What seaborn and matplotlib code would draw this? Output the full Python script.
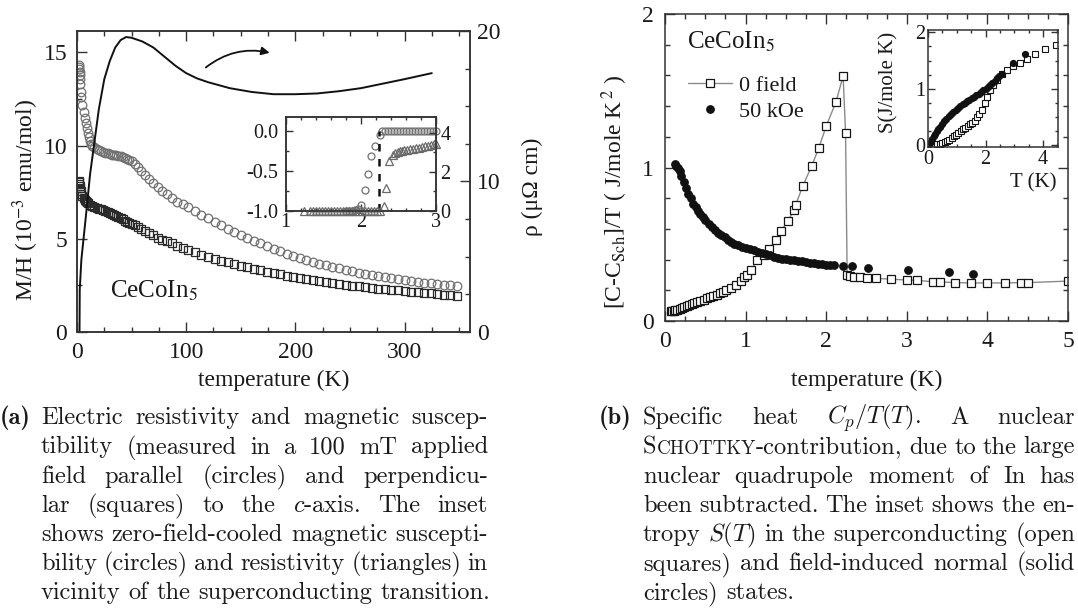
import matplotlib
matplotlib.use("Agg")
import matplotlib.pyplot as plt
import seaborn as sns
from matplotlib.ticker import MultipleLocator, FormatStrFormatter

# ---------------- (a) main panel ----------------
# resistivity (right axis, micro-ohm cm)
rho_T = [2.0, 2.3, 2.5, 4, 6, 9, 12, 15, 20, 25, 30, 35, 40, 45, 50, 60, 70, 80, 90,
         100, 110, 120, 140, 160, 180, 200, 220, 240, 260, 280, 300, 325]
rho = [0.0, 0.0, 2.8, 4.8, 6.2, 8.3, 10.5, 12.1, 14.8, 16.8, 18.0, 18.9, 19.4, 19.6, 19.55,
       19.3, 18.9, 18.3, 17.7, 17.2, 16.85, 16.6, 16.2, 15.95, 15.8, 15.8, 15.85, 16.0,
       16.2, 16.5, 16.8, 17.2]

# susceptibility (left axis, 1e-3 emu/mol)
T_hi = [108, 114, 120, 126, 132, 138, 144, 150, 156, 162, 168, 174, 180, 186, 192, 198,
        204, 210, 216, 222, 228, 234, 240, 246, 252, 258, 264, 270, 276, 282, 288, 294,
        300, 306, 312, 318, 324, 330, 336, 342, 348]

chi_par_T = [1.8, 2.0, 2.2, 2.4, 2.6, 2.8, 3.0, 3.5, 4, 5, 6, 7, 8, 9, 10, 11, 12, 13, 14,
             16, 18, 20, 22, 24, 26, 28, 30, 32, 34, 36, 38, 40, 42, 44, 46, 48, 50,
             53, 56, 59, 62, 66, 70, 74, 78, 82, 87, 92, 97, 102] + T_hi
chi_par = [14.3, 14.2, 14.1, 13.95, 13.8, 13.6, 13.3, 12.9, 12.6, 12.2, 11.8, 11.5, 11.2,
           10.95, 10.7, 10.45, 10.25, 10.1, 10.0,
           9.9, 9.8, 9.75, 9.7, 9.65, 9.6, 9.58, 9.55, 9.52, 9.5, 9.48, 9.45, 9.42, 9.38,
           9.33, 9.28, 9.22, 9.15,
           9.0, 8.85, 8.65, 8.45, 8.2, 7.98, 7.78, 7.58, 7.4, 7.2, 7.0, 6.85, 6.7,
           6.5, 6.3, 6.1, 5.9, 5.72, 5.55, 5.38, 5.22, 5.06, 4.9, 4.75, 4.6, 4.47, 4.34,
           4.2, 4.08, 3.97, 3.86, 3.76, 3.66, 3.57, 3.49, 3.41, 3.33, 3.26, 3.19, 3.12,
           3.06, 3.0, 2.94, 2.89, 2.84, 2.79, 2.74, 2.7, 2.65, 2.61, 2.57, 2.53, 2.5, 2.47]

chi_perp_T = [1.8, 2.0, 2.2, 2.5, 3.0, 3.5, 4, 5, 6, 7, 8, 9, 10,
              12, 14, 16, 18, 20, 22, 24, 26, 28, 30, 32, 34, 36, 38, 40, 42, 44, 46, 48, 50,
              53, 56, 59, 62, 66, 70, 74, 78, 82, 87, 92, 97, 102] + T_hi
chi_perp = [8.1, 8.05, 7.95, 7.85, 7.7, 7.55, 7.42, 7.3, 7.2, 7.1, 7.02, 6.95, 6.9,
            6.83, 6.77, 6.72, 6.67, 6.62, 6.58, 6.53, 6.49, 6.44, 6.4, 6.35, 6.3, 6.24,
            6.18, 6.12, 6.05, 5.98, 5.92, 5.86, 5.8,
            5.72, 5.63, 5.53, 5.43, 5.3, 5.18, 5.07, 4.96, 4.86, 4.75, 4.63, 4.52, 4.4,
            4.27, 4.15, 4.04, 3.93, 3.83, 3.73, 3.64, 3.56, 3.47, 3.39, 3.31, 3.23, 3.16,
            3.09, 3.02, 2.96, 2.9, 2.84, 2.78, 2.73, 2.68, 2.63, 2.58, 2.53, 2.49, 2.45,
            2.41, 2.37, 2.33, 2.3, 2.26, 2.23, 2.2, 2.17, 2.14, 2.11, 2.07, 2.04, 2.01,
            1.98, 1.95]

# ---------------- (a) inset ----------------
ins_chi_T = [1.80, 1.84, 1.88, 1.92, 1.96, 2.00, 2.05, 2.10, 2.14, 2.19, 2.25,
             2.28, 2.32, 2.36, 2.40, 2.44, 2.48, 2.52, 2.56, 2.60, 2.64, 2.68, 2.72,
             2.76, 2.80, 2.84, 2.88, 2.92, 2.96, 3.00]
ins_chi = [-1.0, -1.0, -1.0, -0.99, -0.97, -0.92, -0.74, -0.535, -0.31, -0.185, -0.05,
           0.0, 0.0, 0.0, 0.0, 0.0, 0.0, 0.0, 0.0, 0.0, 0.0, 0.0, 0.0, 0.0, 0.0, 0.0,
           0.0, 0.0, 0.0, 0.0]
ins_rho_T = [1.24, 1.33, 1.37, 1.41, 1.45, 1.49, 1.53, 1.57, 1.61, 1.65, 1.69, 1.73, 1.77,
             1.81, 1.85, 1.89, 1.93, 1.97, 2.01, 2.05, 2.09, 2.13, 2.17, 2.21, 2.25,
             2.31, 2.34, 2.38, 2.43, 2.46, 2.49, 2.52, 2.55, 2.58, 2.61, 2.65, 2.69, 2.73,
             2.77, 2.81, 2.85, 2.89, 2.93, 2.97, 3.0]
ins_rho = [0.0, 0.0, 0.0, 0.0, 0.0, 0.0, 0.0, 0.0, 0.0, 0.0, 0.0, 0.0, 0.0, 0.0, 0.0, 0.0,
           0.0, 0.0, 0.0, 0.0, 0.0, 0.0, 0.0, 0.0, 0.0,
           0.26, 1.16, 2.53, 2.87, 2.95, 3.0, 3.04, 3.07, 3.1, 3.12, 3.15, 3.18, 3.21,
           3.24, 3.27, 3.3, 3.33, 3.37, 3.4, 3.43]
tc_T = [2.24, 2.24]
tc_chi = [-1.0, 0.0]

# ---------------- (b) main panel ----------------
cp0_T = [0.07, 0.09, 0.11, 0.13, 0.15, 0.18, 0.21, 0.24, 0.27, 0.30, 0.33, 0.36, 0.40,
         0.44, 0.48, 0.52, 0.56, 0.60, 0.64, 0.68, 0.72, 0.76, 0.82, 0.88, 0.94, 0.98,
         1.02, 1.07, 1.14, 1.23, 1.29, 1.38, 1.44, 1.52, 1.60, 1.62, 1.71, 1.82, 1.91,
         2.00, 2.12, 2.21, 2.24, 2.26, 2.29, 2.35, 2.42, 2.51, 2.62, 2.81, 3.00, 3.13,
         3.33, 3.41, 3.60, 3.80, 4.00, 4.22, 4.42, 4.50, 5.00]
cp0 = [0.065, 0.066, 0.068, 0.07, 0.073, 0.077, 0.082, 0.088, 0.095, 0.103, 0.11, 0.117,
       0.124, 0.132, 0.14, 0.148, 0.155, 0.163, 0.172, 0.182, 0.192, 0.2, 0.213, 0.235,
       0.26, 0.285, 0.30, 0.33, 0.397, 0.43, 0.47, 0.53, 0.585, 0.65, 0.72, 0.755, 0.88,
       1.01, 1.13, 1.27, 1.425, 1.596, 1.227, 0.30, 0.29, 0.287, 0.285, 0.28, 0.278,
       0.272, 0.267, 0.265, 0.255, 0.255, 0.25, 0.248, 0.248, 0.248, 0.25, 0.25, 0.26]
cp50_T = [0.12, 0.14, 0.16, 0.18, 0.20, 0.23, 0.26, 0.29, 0.32, 0.35, 0.38, 0.41, 0.44,
          0.47, 0.50, 0.54, 0.58, 0.62, 0.66, 0.70, 0.74, 0.78, 0.82, 0.86, 0.90, 0.95,
          1.00, 1.05, 1.10, 1.15, 1.20, 1.25, 1.30, 1.35, 1.40, 1.45, 1.50, 1.55, 1.60,
          1.65, 1.70, 1.75, 1.80, 1.85, 1.90, 1.95, 2.00, 2.05, 2.10, 2.21, 2.32, 2.52,
          3.02, 3.52, 3.82]
cp50 = [1.02, 1.01, 1.0, 0.975, 0.945, 0.905, 0.865, 0.83, 0.8, 0.765, 0.74, 0.715, 0.695,
        0.675, 0.66, 0.635, 0.615, 0.595, 0.575, 0.56, 0.545, 0.53, 0.515, 0.503, 0.495,
        0.485, 0.476, 0.468, 0.46, 0.452, 0.443, 0.435, 0.428, 0.42, 0.413, 0.407, 0.402,
        0.398, 0.395, 0.392, 0.389, 0.385, 0.381, 0.377, 0.373, 0.37, 0.367, 0.365,
        0.362, 0.358, 0.358, 0.347, 0.332, 0.316, 0.306]

# ---------------- (b) inset: entropy ----------------
s0_T = [0.10, 0.20, 0.30, 0.40, 0.50, 0.58, 0.66, 0.74, 0.82, 0.90, 0.98, 1.06, 1.14,
        1.22, 1.30, 1.38, 1.46, 1.54, 1.62, 1.70, 1.78, 1.87, 1.98, 2.06, 2.16, 2.27,
        2.39, 2.56, 2.74, 2.96, 3.20, 3.43, 3.72, 4.07, 4.44]
s0 = [0.0, 0.01, 0.015, 0.025, 0.04, 0.055, 0.07, 0.095, 0.125, 0.16, 0.19, 0.22, 0.25,
      0.28, 0.31, 0.34, 0.37, 0.4, 0.43, 0.5, 0.56, 0.62, 0.74, 0.855, 0.97, 1.06, 1.16,
      1.26, 1.33, 1.4, 1.46, 1.53, 1.61, 1.70, 1.78]
s50_T = [0.05, 0.10, 0.15, 0.20, 0.25, 0.30, 0.35, 0.40, 0.48, 0.56, 0.64, 0.72, 0.80,
         0.88, 0.96, 1.04, 1.12, 1.20, 1.28, 1.36, 1.44, 1.52, 1.60, 1.68, 1.76, 1.84,
         1.92, 2.00, 2.08, 2.16, 2.24, 2.32, 2.40, 2.48, 2.56, 2.94, 3.37]
s50 = [0.01, 0.06, 0.11, 0.16, 0.205, 0.25, 0.29, 0.325, 0.375, 0.425, 0.47, 0.51, 0.55,
       0.59, 0.625, 0.66, 0.695, 0.73, 0.755, 0.785, 0.81, 0.835, 0.86, 0.885, 0.915,
       0.945, 0.97, 1.0, 1.035, 1.07, 1.1, 1.145, 1.185, 1.225, 1.26, 1.45, 1.61]

# ---------------- captions ----------------
cap_a = ["Electric resistivity and magnetic suscep-",
         "tibility (measured in a 100 mT applied",
         "field parallel (circles) and perpendicu-",
         "lar (squares) to the $c$-axis. The inset",
         "shows zero-field-cooled magnetic suscepti-",
         "bility (circles) and resistivity (triangles) in",
         "vicinity of the superconducting transition."]
cap_b = ["Specific heat $C_p/T(T)$. A nuclear",
         "SCHOTTKY-contribution, due to the large",
         "nuclear quadrupole moment of In has",
         "been subtracted. The inset shows the en-",
         "tropy $S(T)$ in the superconducting (open",
         "squares) and field-induced normal (solid",
         "circles) states."]

sns.set_style("ticks")
plt.rcParams["font.family"] = ["Liberation Serif", "DejaVu Serif"]
plt.rcParams["mathtext.fontset"] = "stix"
plt.rcParams["axes.unicode_minus"] = False
INK = "#1a1a1a"
EDGE = "#333333"

W, H = 1078, 608
fig = plt.figure(figsize=(W / 100, H / 100), dpi=100)


def px_axes(left, top, right, bottom):
    return fig.add_axes([left / W, 1 - bottom / H, (right - left) / W, (bottom - top) / H])


def frame(ax, size, xpad, ypad, major=7, minor=3.5):
    ax.tick_params(which="both", direction="in", labelsize=size, width=1.0,
                   color=EDGE, labelcolor=INK)
    ax.tick_params(axis="x", pad=xpad)
    ax.tick_params(axis="y", pad=ypad)
    ax.tick_params(which="major", length=major)
    ax.tick_params(which="minor", length=minor)
    for sp in ax.spines.values():
        sp.set_color(EDGE)
        sp.set_linewidth(1.1)


def pts(ax, x, y, marker, ms, mfc, mec, mew=0.9, **kw):
    sns.lineplot(x=x, y=y, ax=ax, estimator=None, sort=False, marker=marker,
                 linestyle="none", ms=ms, mfc=mfc, mec=mec, mew=mew, **kw)


# ===== panel (a) =====
ax1 = px_axes(77, 31, 470, 332)
ax1r = ax1.twinx()
pts(ax1, chi_par_T, chi_par, "o", 6.2, "none", "#707070")
pts(ax1, chi_perp_T, chi_perp, "s", 5.6, "none", "#2a2a2a")
sns.lineplot(x=rho_T, y=rho, ax=ax1r, estimator=None, sort=False, color="#111111", lw=1.4)
ax1.set_xlim(0, 360)
ax1.set_ylim(0, 16.15)
ax1r.set_ylim(0, 20)
ax1.xaxis.set_major_locator(MultipleLocator(100))
ax1.xaxis.set_minor_locator(MultipleLocator(25))
ax1.yaxis.set_major_locator(MultipleLocator(5))
ax1.yaxis.set_minor_locator(MultipleLocator(2.5))
ax1r.yaxis.set_major_locator(MultipleLocator(10))
ax1r.yaxis.set_minor_locator(MultipleLocator(2.5))
frame(ax1, 17, 7, 7)
frame(ax1r, 17, 7, 5)
ax1.tick_params(which="both", top=True, right=False)
ax1r.tick_params(which="both", right=True, left=False)
ax1.set_xlabel("temperature (K)", fontsize=17, color=INK, va="center")
ax1.xaxis.set_label_coords(0.5, -0.16)
ax1.set_ylabel(r"M/H (10$^{-3}$ emu/mol)", fontsize=17, color=INK, va="center")
ax1.yaxis.set_label_coords(-0.13, 0.44)
ax1r.set_ylabel("ρ (μΩ cm)", fontsize=17, color=INK, va="center")
ax1r.yaxis.set_label_coords(1.158, 0.482)
ax1.text(30, 2.2, r"CeCoIn$_5$", fontsize=18, color=INK, va="center")
ax1.annotate("", xy=(179, 14.95), xytext=(116, 14.1),
             arrowprops=dict(arrowstyle="-|>", color="#111111", lw=1.3,
                             mutation_scale=12, connectionstyle="arc3,rad=-0.25"))

# inset (a)
ins1 = px_axes(285.5, 117, 436, 211)
ins1r = ins1.twinx()
pts(ins1, ins_chi_T, ins_chi, "o", 5.0, "none", "#707070", clip_on=False)
pts(ins1r, ins_rho_T, ins_rho, "^", 5.6, "none", "#6a6a6a", clip_on=False)
sns.lineplot(x=tc_T, y=tc_chi, ax=ins1, estimator=None, sort=False, color="#111111",
             lw=1.8, dashes=False, linestyle=(0, (3, 3)))
ins1.set_xlim(1, 3)
ins1.set_ylim(-1.0, 0.175)
ins1r.set_ylim(0, 4.8)
ins1.xaxis.set_major_locator(MultipleLocator(1))
ins1.xaxis.set_minor_locator(MultipleLocator(0.2))
ins1.yaxis.set_major_locator(MultipleLocator(0.5))
ins1.yaxis.set_minor_locator(MultipleLocator(0.25))
ins1.yaxis.set_major_formatter(FormatStrFormatter("%.1f"))
ins1r.yaxis.set_major_locator(MultipleLocator(2))
ins1r.yaxis.set_minor_locator(MultipleLocator(1))
frame(ins1, 14.5, 1.5, 5, major=5, minor=2.5)
frame(ins1r, 14.5, 1.5, 3, major=5, minor=2.5)
ins1.tick_params(which="both", top=True, right=False)
ins1r.tick_params(which="both", right=True, left=False)
ins1.set_facecolor("white")

# ===== panel (b) =====
ax2 = px_axes(665, 14, 1068, 321)
sns.lineplot(x=cp0_T, y=cp0, ax=ax2, estimator=None, sort=False, color="#8a8a8a", lw=1.0,
             marker="s", ms=5.6, mfc="white", mec="#151515", mew=0.9, label="0 field")
pts(ax2, cp50_T, cp50, "o", 5.4, "#111111", "#111111", label="50 kOe")
ax2.set_xlim(0, 5)
ax2.set_ylim(0, 2)
ax2.xaxis.set_major_locator(MultipleLocator(1))
ax2.xaxis.set_minor_locator(MultipleLocator(0.25))
ax2.yaxis.set_major_locator(MultipleLocator(1))
ax2.yaxis.set_minor_locator(MultipleLocator(0.2))
frame(ax2, 17, 7, 8)
ax2.tick_params(which="both", top=True, right=True)
ax2.set_xlabel("temperature (K)", fontsize=17, color=INK, va="center")
ax2.xaxis.set_label_coords(0.5, -0.192)
ax2.set_ylabel(r"[C-C$_{\mathrm{Sch}}$]/T ( J/mole K$^{\,2}$ )", fontsize=17, color=INK,
               va="center")
ax2.yaxis.set_label_coords(-0.124, 0.42)
ax2.text(0.27, 1.82, r"CeCoIn$_5$", fontsize=18, color=INK, va="center")
ax2.legend(loc="upper left", bbox_to_anchor=(0.057, 0.80), frameon=False, fontsize=16,
           handlelength=2.0, handletextpad=0.3, labelspacing=0.25, borderpad=0,
           borderaxespad=0, labelcolor=INK)

# inset (b)
ins2 = px_axes(928, 30, 1058, 147)
pts(ins2, s0_T, s0, "s", 4.3, "white", "#151515", mew=0.8)
pts(ins2, s50_T, s50, "o", 4.4, "#111111", "#111111", mew=0.8)
ins2.set_xlim(0, 4.52)
ins2.set_ylim(-0.03, 2.04)
ins2.xaxis.set_major_locator(MultipleLocator(2))
ins2.xaxis.set_minor_locator(MultipleLocator(0.5))
ins2.yaxis.set_major_locator(MultipleLocator(1))
ins2.yaxis.set_minor_locator(MultipleLocator(0.25))
frame(ins2, 14.5, 2, 2, major=5, minor=2.5)
ins2.tick_params(which="both", top=True, right=True)
ins2.set_xlabel("T (K)", fontsize=15, color=INK, va="center")
ins2.xaxis.set_label_coords(0.81, -0.31)
ins2.set_ylabel("S(J/mole K)", fontsize=15, color=INK, va="center")
ins2.yaxis.set_label_coords(-0.3, 0.556)
ins2.set_facecolor("white")

# ===== captions (justified) =====
CAP_FS = 17.6
renderer = fig.canvas.get_renderer()
small_caps = {"SCHOTTKY-contribution,": [("S", 1.0), ("CHOTTKY", 0.78), ("-contribution,", 1.0)]}


def caption(tag, lines, x_tag, x0, x1, baselines):
    fig.text(x_tag / W, 1 - baselines[0] / H, tag, family="cmb10", size=CAP_FS,
             va="baseline", color=INK)
    space = CAP_FS * 1.389 * 0.333
    for i, (line, yb) in enumerate(zip(lines, baselines)):
        words = []
        for w in line.split():
            segs = small_caps.get(w, [(w, 1.0)])
            arts, width = [], 0.0
            for txt, scale in segs:
                a = fig.text(0, 1 - yb / H, txt, family="cmr10", size=CAP_FS * scale,
                             math_fontfamily="cm", va="baseline", color=INK)
                arts.append((a, width))
                width += a.get_window_extent(renderer).width
            words.append((arts, width))
        total = sum(wd for _, wd in words)
        last = i == len(lines) - 1
        gap = space if last or len(words) < 2 else (x1 - x0 - total) / (len(words) - 1)
        x = x0
        for arts, wd in words:
            for a, off in arts:
                a.set_x((x + off) / W)
            x += wd + gap


rows = [424, 453.5, 483, 512, 541, 570, 599]
caption("(a)", cap_a, 0, 41, 488, rows)
caption("(b)", cap_b, 599, 643, 1075, rows)

fig.savefig("out.png", dpi=100, facecolor="white")
